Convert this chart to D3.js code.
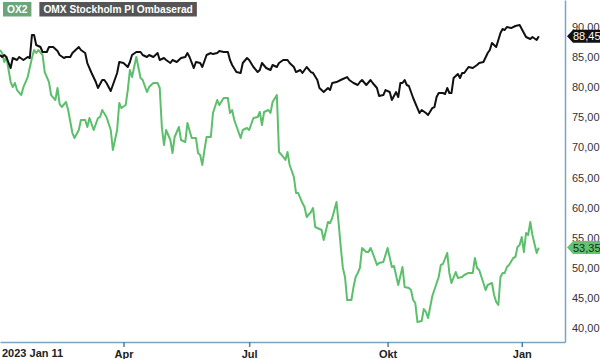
<!DOCTYPE html>
<html>
<head>
<meta charset="utf-8">
<script src="https://cdn.jsdelivr.net/npm/d3@7"></script>
<style>
  body { margin: 0; background: #fff; }
  svg { display: block; font-family: Arial, 'Liberation Sans', sans-serif; }
</style>
</head>
<body>
<svg class="canvas" width="600" height="359"></svg>
<script>
'use strict';

// Series names (legend boxes)
const seriesNames = ['OX2', 'OMX Stockholm PI Ombaserad'];

// [trading day index since 2023-01-11, value]
const omxSeries = [
  [0,85.35],[1,85.02],[2,85.35],[3,85.02],[5,83.19],[6,84.85],[8,84.52],[9,85.02],[11,84.52],[13,85.02],
  [14,84.85],[15,88.67],[16,88.67],[17,87.01],[19,86.68],[20,85.85],[22,85.85],[23,86.68],[25,86.68],[27,86.01],
  [28,85.35],[30,84.85],[31,85.02],[33,85.02],[34,85.68],[37,86.68],[38,86.18],[40,85.68],[41,84.02],[43,82.36],
  [45,80.86],[46,79.87],[48,81.2],[49,81.2],[50,80.7],[52,79.37],[53,80.37],[55,82.36],[56,84.19],[58,84.02],
  [60,83.36],[61,84.19],[62,85.35],[64,85.85],[66,85.85],[67,85.35],[69,85.02],[70,85.35],[72,85.02],[74,85.68],
  [75,84.52],[77,84.85],[78,84.52],[80,84.02],[81,84.52],[83,84.19],[85,84.85],[87,85.02],[88,85.68],[89,85.02],
  [91,83.19],[92,84.19],[94,84.02],[95,83.36],[97,85.35],[99,85.68],[100,85.51],[102,85.68],[103,86.01],[105,85.85],
  [107,85.85],[108,84.52],[109,83.69],[111,82.52],[113,82.36],[114,84.02],[116,84.85],[117,84.52],[119,83.36],[121,82.52],
  [122,82.86],[123,84.02],[125,83.19],[127,82.86],[128,83.69],[130,83.36],[131,84.02],[133,84.52],[135,84.52],[136,84.02],
  [138,83.36],[139,82.52],[141,82.86],[142,82.36],[144,83.36],[146,82.52],[147,82.36],[149,81.2],[150,79.87],[152,79.2],
  [154,79.87],[155,79.53],[156,80.7],[158,80.86],[160,81.2],[161,81.36],[163,81.69],[164,81.2],[166,80.7],[168,80.37],
  [169,80.86],[170,81.2],[172,80.37],[174,81.2],[175,80.7],[177,79.87],[178,78.54],[180,78.7],[181,79.53],[183,79.2],
  [184,77.87],[185,78.54],[186,79.2],[187,78.37],[188,80.7],[189,80.7],[190,81.2],[191,80.37],[192,80.2],[194,78.21],
  [196,76.54],[197,75.71],[198,76.21],[200,75.71],[201,75.38],[203,76.54],[204,76.71],[205,78.37],[206,79.04],[208,79.04],
  [209,78.87],[210,79.87],[211,79.04],[212,79.04],[213,81.53],[215,82.19],[216,81.53],[217,82.36],[218,82.36],[220,83.36],
  [222,83.19],[224,83.69],[225,84.02],[227,84.19],[229,85.68],[230,86.18],[231,87.34],[233,86.68],[235,89.0],[236,89.67],
  [237,89.5],[238,90.0],[240,89.83],[242,90.17],[244,90.33],[246,89.0],[247,88.34],[249,88.01],[250,88.34],[252,87.84],
  [253,88.45]
];

const ox2Series = [
  [0,86.18],[1,85.68],[2,84.19],[3,85.02],[5,80.86],[6,80.03],[7,80.7],[8,79.53],[10,78.7],[11,80.03],
  [13,81.69],[15,84.85],[16,86.18],[17,85.68],[18,86.18],[20,85.35],[21,82.52],[23,80.86],[24,78.7],[26,77.87],
  [27,79.87],[28,77.21],[29,76.71],[31,77.54],[32,76.21],[34,72.39],[35,71.56],[37,72.89],[38,74.55],[40,74.55],
  [41,73.39],[42,74.88],[44,72.89],[46,74.88],[47,75.05],[48,76.21],[50,75.05],[52,72.89],[53,69.57],[55,72.89],
  [56,77.38],[57,76.54],[59,77.04],[60,79.53],[61,82.86],[62,81.69],[64,85.02],[66,81.53],[67,81.2],[69,79.2],
  [70,80.03],[72,80.7],[74,80.7],[75,79.87],[76,73.39],[77,70.4],[78,72.89],[80,71.23],[81,69.07],[82,71.73],
  [84,73.39],[85,71.23],[87,70.9],[88,74.05],[90,71.56],[92,71.56],[93,69.07],[94,68.74],[95,67.08],[96,69.57],
  [97,71.73],[99,71.73],[100,75.71],[102,77.87],[103,77.04],[105,78.21],[107,78.21],[108,75.71],[109,76.21],[110,74.55],
  [113,71.56],[114,72.89],[116,73.22],[117,72.89],[119,74.88],[121,75.05],[122,75.88],[123,73.72],[124,75.88],[126,76.21],
  [127,75.71],[128,77.54],[130,78.7],[131,69.24],[133,68.41],[134,67.91],[135,69.24],[136,67.08],[138,65.08],[139,62.43],
  [140,62.43],[142,60.76],[143,60.1],[144,58.44],[146,59.27],[147,59.93],[148,56.78],[149,56.61],[151,56.28],[152,54.62],
  [154,57.61],[155,57.44],[156,58.27],[158,60.93],[159,57.44],[160,53.46],[161,49.97],[162,48.47],[163,44.65],[165,44.65],
  [166,46.81],[167,48.47],[168,49.14],[169,49.97],[170,53.29],[172,52.62],[173,52.62],[174,53.29],[175,52.46],[177,50.47],
  [178,50.8],[180,50.96],[182,53.29],[184,50.13],[185,50.3],[187,47.14],[189,50.13],[190,46.81],[192,46.64],[193,46.31],
  [194,44.65],[195,44.15],[196,41.0],[198,41.16],[199,43.16],[200,42.66],[201,41.66],[203,45.32],[206,48.47],[207,50.47],
  [208,50.63],[210,52.46],[211,49.14],[212,47.48],[214,49.3],[215,48.31],[217,48.47],[218,48.8],[220,49.14],[222,49.14],
  [223,51.63],[224,49.97],[225,49.63],[227,47.48],[228,46.31],[229,47.14],[231,47.48],[232,45.48],[233,44.32],[234,43.82],
  [235,48.47],[236,49.14],[237,49.14],[238,50.13],[239,50.47],[241,51.63],[242,51.79],[243,53.46],[244,53.79],[245,55.12],
  [246,52.62],[247,55.78],[248,55.45],[249,57.61],[250,55.45],[252,52.46],[253,53.35]
];

// x ticks (trading day index of first session in month)
const startLabel = '2023 Jan 11';
const xTickDays = [58, 117, 182, 245];
const xTickLabels = ['Apr', 'Jul', 'Okt', 'Jan'];
const yTicks = [40, 45, 50, 55, 60, 65, 70, 75, 80, 85, 90];

const svg = d3.select('.canvas'),
  plotW = 565,
  plotH = 342,
  axisColor = '#7ba4c3',
  ox2Color = '#5cbf6c';

const x = d3.scaleLinear().domain([0, 265.3]).range([0, plotW]);
const y = d3.scaleLinear().domain([37.67, 94.49]).range([plotH, 0]);

const sv = d3.formatLocale({ decimal: ',', thousands: ' ', grouping: [3], currency: ['', ' kr'] });
const fmt = sv.format('.2f');

svg.append('clipPath').attr('id', 'plot')
  .append('rect').attr('width', plotW).attr('height', plotH);

const line = d3.line().x(d => x(d[0])).y(d => y(d[1]));

const lines = svg.append('g').attr('clip-path', 'url(#plot)');
lines.append('path').datum(ox2Series)
  .attr('d', line).attr('fill', 'none')
  .attr('stroke', ox2Color).attr('stroke-width', 2).attr('stroke-linejoin', 'round');
lines.append('path').datum(omxSeries)
  .attr('d', line).attr('fill', 'none')
  .attr('stroke', '#111').attr('stroke-width', 2).attr('stroke-linejoin', 'round');

// x axis
const xAxis = svg.append('g')
  .attr('transform', `translate(0,${plotH})`)
  .call(d3.axisBottom(x).tickValues(xTickDays).tickFormat((d, i) => xTickLabels[i]).tickSize(5).tickSizeOuter(0).tickPadding(3));
xAxis.select('.domain').attr('stroke', axisColor).attr('stroke-width', 1.5);
xAxis.selectAll('.tick line').attr('stroke', '#4a82aa').attr('stroke-width', 1.5);
xAxis.selectAll('.tick text')
  .attr('fill', '#222').style('font-size', '11px').style('font-weight', 'bold')
  .style('font-family', "Arial, 'Liberation Sans', sans-serif");
svg.append('text')
  .attr('x', 2).attr('y', 357)
  .attr('fill', '#222').style('font-size', '11px').style('font-weight', 'bold')
  .text(startLabel);

// y axis on right
const yAxis = svg.append('g')
  .attr('transform', `translate(${plotW},0)`)
  .call(d3.axisRight(y).tickValues(yTicks).tickFormat(fmt).tickSize(0).tickSizeOuter(0).tickPadding(7));
yAxis.select('.domain').attr('stroke', axisColor).attr('stroke-width', 1.5);
yAxis.selectAll('.tick text')
  .attr('fill', '#333').style('font-size', '11px')
  .style('font-family', "Arial, 'Liberation Sans', sans-serif");

// last value tags
function tag(value, fill, textColor) {
  const cy = y(value);
  svg.append('path')
    .attr('d', `M${plotW + 2},${cy} L${plotW + 8},${cy - 6.5} L600,${cy - 6.5} L600,${cy + 6.5} L${plotW + 8},${cy + 6.5} Z`)
    .attr('fill', fill);
  svg.append('text')
    .attr('x', plotW + 8).attr('y', cy + 4)
    .attr('fill', textColor).style('font-size', '11px')
    .text(fmt(value));
}
tag(omxSeries[omxSeries.length - 1][1], '#111', '#fff');
tag(ox2Series[ox2Series.length - 1][1], '#64c274', '#1c2a1c');

// legend boxes
const legendColors = ['#6aa67a', '#555'];
let lx = 3;
seriesNames.forEach((name, i) => {
  const g = svg.append('g');
  const t = g.append('text')
    .attr('x', lx + 4).attr('y', 13)
    .attr('fill', '#fff').style('font-size', '10.2px').style('font-weight', 'bold')
    .text(name);
  const w = t.node().getComputedTextLength() + 8;
  g.insert('rect', 'text')
    .attr('x', lx).attr('y', 2).attr('width', w).attr('height', 14.5)
    .attr('fill', legendColors[i]);
  lx += w + 8;
});
</script>
</body>
</html>
